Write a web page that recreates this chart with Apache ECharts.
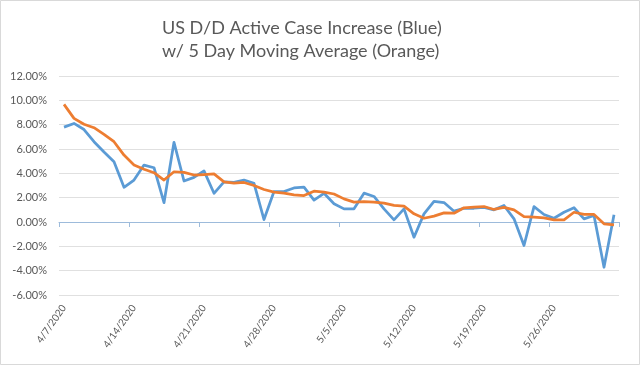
<!DOCTYPE html>
<html><head><meta charset="utf-8">
<script src="https://cdn.jsdelivr.net/npm/echarts@6/dist/echarts.min.js"></script>
<style>html,body{margin:0;padding:0;background:#fff}#c{width:640px;height:365px}</style>
</head><body><div id="c"></div>
<script>
var dates = ['4/7/2020','4/8/2020','4/9/2020','4/10/2020','4/11/2020','4/12/2020','4/13/2020','4/14/2020','4/15/2020','4/16/2020','4/17/2020','4/18/2020','4/19/2020','4/20/2020','4/21/2020','4/22/2020','4/23/2020','4/24/2020','4/25/2020','4/26/2020','4/27/2020','4/28/2020','4/29/2020','4/30/2020','5/1/2020','5/2/2020','5/3/2020','5/4/2020','5/5/2020','5/6/2020','5/7/2020','5/8/2020','5/9/2020','5/10/2020','5/11/2020','5/12/2020','5/13/2020','5/14/2020','5/15/2020','5/16/2020','5/17/2020','5/18/2020','5/19/2020','5/20/2020','5/21/2020','5/22/2020','5/23/2020','5/24/2020','5/25/2020','5/26/2020','5/27/2020','5/28/2020','5/29/2020','5/30/2020','5/31/2020','6/1/2020'];
var dailyIncrease = [7.8,8.1,7.6,6.6,5.75,4.95,2.85,3.45,4.68,4.46,1.59,6.55,3.37,3.67,4.2,2.36,3.3,3.25,3.45,3.18,0.2,2.5,2.5,2.8,2.86,1.8,2.36,1.5,1.08,1.08,2.37,2.1,1.08,0.18,1.08,-1.25,0.67,1.7,1.6,0.89,1.13,1.13,1.2,1.0,1.36,0.26,-1.93,1.27,0.62,0.31,0.8,1.17,0.26,0.53,-3.72,0.6];
var movingAvg5 = [9.67,8.52,8.03,7.75,7.2,6.6,5.5,4.68,4.33,4.05,3.45,4.13,4.08,3.86,3.9,3.95,3.3,3.2,3.25,3.0,2.67,2.45,2.37,2.23,2.17,2.53,2.45,2.3,1.9,1.63,1.68,1.63,1.55,1.36,1.3,0.67,0.31,0.48,0.75,0.72,1.17,1.22,1.27,1.03,1.2,1.0,0.45,0.4,0.34,0.18,0.18,0.8,0.62,0.62,-0.15,-0.23];
var titleLines = ['US D/D Active Case Increase (Blue)', 'w/ 5 Day Moving Average (Orange)'];

var chart = echarts.init(document.getElementById('c'), null, {renderer:'canvas'});
var fontFam = 'Lato, "Liberation Sans", sans-serif';
chart.setOption({
  animation: false,
  backgroundColor: '#fff',
  title: {
    text: titleLines.join('\n'),
    left: 157, top: 12,
    textStyle: {color:'#595959', fontSize:18, fontWeight:'normal', fontFamily:fontFam, lineHeight:23}
  },
  graphic: [{type:'rect', shape:{x:0.5,y:0.5,width:639,height:364}, style:{fill:null, stroke:'#d9d9d9', lineWidth:1}, silent:true}],
  grid: {left:59, right:21, top:76, bottom:70, containLabel:false, outerBoundsMode:'none'},
  xAxis: [{
    type:'category', data:dates, boundaryGap:true, position:'bottom',
    axisLine:{show:false, onZero:false}, axisTick:{show:false},
    axisLabel:{interval:6, rotate:55, color:'#595959', fontSize:10, fontFamily:fontFam, margin:11}
  },{
    type:'category', data:dates, boundaryGap:true, position:'bottom',
    axisLine:{show:true, onZero:true, lineStyle:{color:'#9DBBDB', width:1}},
    axisTick:{show:true, interval:6, length:5, inside:false, lineStyle:{color:'#9DBBDB'}},
    axisLabel:{show:false}
  }],
  yAxis: {
    type:'value', min:-6, max:12, interval:2,
    axisLine:{show:false}, axisTick:{show:false},
    splitLine:{lineStyle:{color:'#e0e0e0', width:1}},
    axisLabel:{color:'#595959', fontSize:11, fontFamily:fontFam, margin:12, formatter:function(v){return v.toFixed(2)+'%';}}
  },
  series: [{
    name:'Daily', type:'line', data:dailyIncrease, xAxisIndex:0, showSymbol:false, symbol:'none',
    lineStyle:{color:'#5B9BD5', width:2.75, join:'round'}, z:2
  },{
    name:'5 Day MA', type:'line', data:movingAvg5, xAxisIndex:0, showSymbol:false, symbol:'none',
    lineStyle:{color:'#ED7D31', width:2.75, join:'round'}, z:3
  }]
});
</script></body></html>
